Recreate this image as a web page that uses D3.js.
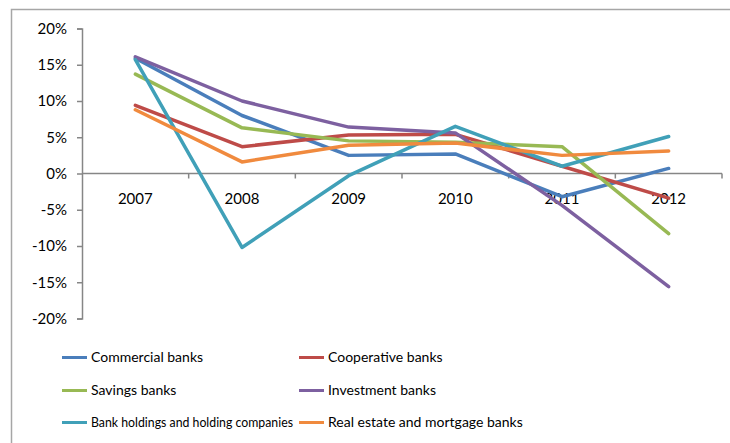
<!DOCTYPE html>
<html>
<head>
<meta charset="utf-8">
<script src="https://cdn.jsdelivr.net/npm/d3@7"></script>
<style>
  html, body { margin: 0; padding: 0; background: #fff; }
  svg { display: block; }
  text { font-family: Lato, "Open Sans", sans-serif; fill: #000; }
</style>
</head>
<body>
<svg id="chart" width="730" height="443"></svg>
<script>
// Annual growth by bank type (percent)
const years = ["2007", "2008", "2009", "2010", "2011", "2012"];
const seriesNames = [
  "Commercial banks", "Cooperative banks",
  "Savings banks", "Investment banks",
  "Bank holdings and holding companies", "Real estate and mortgage banks"
];
const commercial  = [15.9, 8.0, 2.5, 2.7, -3.2, 0.7];
const cooperative = [9.4, 3.7, 5.3, 5.4, 1.0, -3.4];
const savings     = [13.7, 6.3, 4.5, 4.3, 3.7, -8.3];
const investment  = [16.1, 10.0, 6.4, 5.6, -4.4, -15.6];
const holdings    = [15.7, -10.2, -0.3, 6.5, 1.0, 5.1];
const realEstate  = [8.8, 1.6, 3.9, 4.2, 2.5, 3.1];
const yTicks = [-20, -15, -10, -5, 0, 5, 10, 15, 20];
const colors = ["#4A7EBB", "#BE4B48", "#98B954", "#7D60A0", "#40A0B8", "#F08A3E"];

const seriesValues = [commercial, cooperative, savings, investment, holdings, realEstate];

const svg = d3.select("#chart");

// Outer chart frame (extends past the right and bottom edges)
svg.append("rect")
  .attr("x", 11.5).attr("y", 9.5)
  .attr("width", 760).attr("height", 460)
  .attr("fill", "none")
  .attr("stroke", "#A6A6A6")
  .attr("stroke-width", 1.5);

const x = d3.scaleBand().domain(years).range([82, 722]);
const y = d3.scaleLinear().domain([-20, 20]).range([318.5, 28.5]);

// Y axis
const yAxis = d3.axisLeft(y)
  .tickValues(yTicks)
  .tickSize(5)
  .tickPadding(10)
  .tickFormat(d => d + "%");
const yg = svg.append("g").attr("transform", "translate(82,0)").call(yAxis);
yg.select(".domain").attr("stroke", "#868686").attr("stroke-width", 1.5);
yg.selectAll(".tick line").attr("stroke", "#868686").attr("stroke-width", 1.5);
yg.selectAll(".tick text")
  .style("font-family", "Lato, sans-serif")
  .style("font-size", "15px")
  .attr("fill", "#000");

// X axis at zero, labels hanging below
const xAxisLine = svg.append("g").attr("transform", `translate(0,${y(0)})`);
xAxisLine.append("line")
  .attr("x1", x.range()[0]).attr("x2", x.range()[1])
  .attr("stroke", "#868686").attr("stroke-width", 1.5);
const boundaries = years.map(yr => x(yr) + x.bandwidth());
xAxisLine.selectAll("line.tick")
  .data(boundaries)
  .join("line")
  .attr("class", "tick")
  .attr("x1", d => d).attr("x2", d => d)
  .attr("y1", 0).attr("y2", 5)
  .attr("stroke", "#868686").attr("stroke-width", 1.5);
xAxisLine.selectAll("text")
  .data(years)
  .join("text")
  .attr("x", d => x(d) + x.bandwidth() / 2)
  .attr("y", 30)
  .attr("text-anchor", "middle")
  .style("font-size", "15px")
  .text(d => d);

// Series lines
const line = d3.line()
  .x((d, i) => x(years[i]) + x.bandwidth() / 2)
  .y(d => y(d));

svg.append("g").selectAll("path")
  .data(seriesValues)
  .join("path")
  .attr("d", d => line(d))
  .attr("fill", "none")
  .attr("stroke", (d, i) => colors[i])
  .attr("stroke-width", 3.5)
  .attr("stroke-linejoin", "round")
  .attr("stroke-linecap", "round");

// Legend: two columns, three rows
const legend = svg.append("g");
const colX = [62, 299];
const rowY = [357.5, 390.5, 422.5];
const textOffset = 29;
const maxTextWidth = colX[1] - colX[0] - textOffset - 6;
seriesNames.forEach((name, i) => {
  const cx = colX[i % 2];
  const cy = rowY[Math.floor(i / 2)];
  const g = legend.append("g").attr("transform", `translate(${cx},${cy})`);
  g.append("line")
    .attr("x1", 0).attr("x2", 25)
    .attr("stroke", colors[i]).attr("stroke-width", 3);
  const t = g.append("text")
    .attr("x", textOffset).attr("y", 0)
    .attr("dy", "0.35em")
    .style("font-size", "14px")
    .text(name);
  // keep long labels inside their column
  const w = t.node().getComputedTextLength();
  if (w > maxTextWidth) {
    t.attr("textLength", maxTextWidth).attr("lengthAdjust", "spacingAndGlyphs");
  }
});
</script>
</body>
</html>
